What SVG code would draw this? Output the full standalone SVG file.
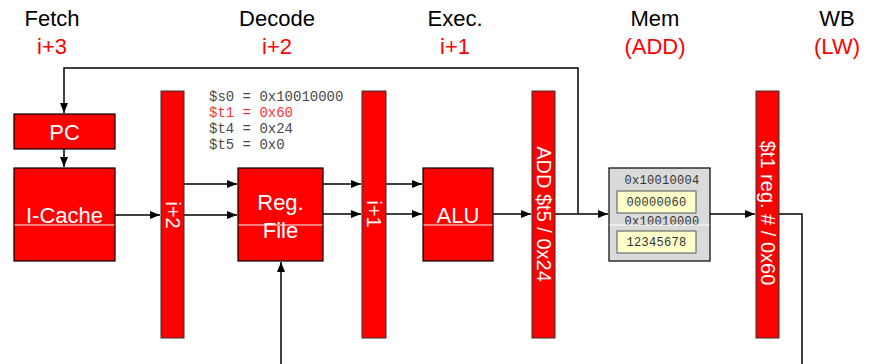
<svg xmlns="http://www.w3.org/2000/svg" width="873" height="364" viewBox="0 0 873 364">
<style>
.hdr{font-family:"Liberation Sans",Arial,sans-serif;font-size:22px;fill:#000;text-anchor:middle}
.hdrr{font-family:"Liberation Sans",Arial,sans-serif;font-size:22px;fill:#ff0000;text-anchor:middle}
.box{fill:#ff0000;stroke:#000;stroke-width:1.2}
.reg{fill:#ff0000;stroke:#333;stroke-width:1}
.bt{font-family:"Liberation Sans",Arial,sans-serif;font-size:22px;fill:#fff;text-anchor:middle}
.rt{font-family:"Liberation Sans",Arial,sans-serif;font-size:20px;fill:#fff;text-anchor:middle}
.wl{stroke:#fff;stroke-width:1}
.mono{font-family:"Liberation Mono","Courier New",monospace;font-size:14px;fill:#4a4a4a}
.mm{font-family:"Liberation Mono","Courier New",monospace;font-size:12px;fill:#333;text-anchor:middle;letter-spacing:0.3px}
.ln{fill:none;stroke:#404040;stroke-width:2}
.lk{fill:none;stroke:#000;stroke-width:1.5}
</style>
<defs>
<marker id="ah" viewBox="0 0 10 10" refX="10" refY="5" markerWidth="10" markerHeight="10" markerUnits="userSpaceOnUse" orient="auto">
<path d="M0,1 L10,5 L0,9 Z" fill="#000"/>
</marker>
</defs>

<g id="headers">
<text class="hdr" x="52" y="26">Fetch</text>
<text class="hdrr" x="52" y="54">i+3</text>
<text class="hdr" x="277" y="26">Decode</text>
<text class="hdrr" x="277" y="54">i+2</text>
<text class="hdr" x="455" y="26">Exec.</text>
<text class="hdrr" x="455" y="54">i+1</text>
<text class="hdr" x="655" y="26">Mem</text>
<text class="hdrr" x="655" y="54">(ADD)</text>
<text class="hdr" x="837" y="26">WB</text>
<text class="hdrr" x="837" y="54">(LW)</text>
</g>

<g id="regvals">
<text class="mono" x="209" y="101">$s0 = 0x10010000</text>
<text class="mono" x="209" y="117" style="fill:#ff3333">$t1 = 0x60</text>
<text class="mono" x="209" y="133">$t4 = 0x24</text>
<text class="mono" x="209" y="149">$t5 = 0x0</text>
</g>

<g id="connectors">
<polyline class="lk" points="555,214 578,214 578,68 64,68 64,113" marker-end="url(#ah)"/>
<line class="lk" x1="64" y1="149" x2="64" y2="167" marker-end="url(#ah)"/>
<line class="ln" x1="115" y1="215" x2="160" y2="215" marker-end="url(#ah)"/>
<line class="ln" x1="184" y1="184" x2="237" y2="184" marker-end="url(#ah)"/>
<line class="ln" x1="184" y1="215" x2="237" y2="215" marker-end="url(#ah)"/>
<line class="ln" x1="281" y1="364" x2="281" y2="262" marker-end="url(#ah)"/>
<line class="ln" x1="323" y1="184" x2="361" y2="184" marker-end="url(#ah)"/>
<line class="ln" x1="323" y1="214" x2="361" y2="214" marker-end="url(#ah)"/>
<line class="ln" x1="386" y1="184" x2="422" y2="184" marker-end="url(#ah)"/>
<line class="ln" x1="386" y1="214" x2="422" y2="214" marker-end="url(#ah)"/>
<line class="ln" x1="493" y1="214" x2="531" y2="214" marker-end="url(#ah)"/>
<line class="ln" x1="578" y1="214" x2="608" y2="214" marker-end="url(#ah)"/>
<line class="ln" x1="710" y1="214" x2="755" y2="214" marker-end="url(#ah)"/>
<polyline class="lk" points="779,214 802,214 802,364"/>
</g>

<g id="pc">
<rect class="box" x="14" y="114" width="101" height="35"/>
<text class="bt" x="64.5" y="140">PC</text>
</g>

<g id="icache">
<rect class="box" x="14" y="168" width="101" height="93"/>
<text class="bt" x="64.5" y="223">I-Cache</text>
<line class="wl" x1="14.6" y1="225" x2="114.4" y2="225"/>
</g>

<g id="reg-if-id">
<rect class="reg" x="161" y="91" width="23" height="247"/>
<text class="rt" transform="translate(172.5,215) rotate(90)" x="0" y="7">i+2</text>
</g>

<g id="regfile">
<rect class="box" x="238" y="168" width="85" height="93"/>
<text class="bt" x="280.5" y="210">Reg.</text>
<text class="bt" x="280.5" y="238">File</text>
<line class="wl" x1="238.6" y1="225" x2="322.4" y2="225"/>
</g>

<g id="reg-id-ex">
<rect class="reg" x="362" y="91" width="24" height="247"/>
<text class="rt" transform="translate(374,214) rotate(90)" x="0" y="7">i+1</text>
</g>

<g id="alu">
<rect class="box" x="423" y="168" width="70" height="93"/>
<text class="bt" x="458" y="223">ALU</text>
<line class="wl" x1="423.6" y1="225" x2="492.4" y2="225"/>
</g>

<g id="reg-ex-mem">
<rect class="reg" x="532" y="91" width="23" height="247"/>
<text class="rt" transform="translate(543.5,214) rotate(90)" x="0" y="7">ADD $t5 / 0x24</text>
</g>

<g id="memory">
<rect x="609" y="168" width="101" height="93" fill="#dadada" stroke="#000" stroke-width="1.2"/>
<text class="mm" x="662" y="184">0x10010004</text>
<rect x="617" y="191" width="79" height="22" fill="#ffffcc" stroke="#555" stroke-width="1"/>
<text class="mm" x="656.5" y="206">00000060</text>
<text class="mm" x="662" y="225">0x10010000</text>
<line class="wl" x1="609.6" y1="225" x2="709.4" y2="225"/>
<rect x="617" y="231" width="79" height="22" fill="#ffffcc" stroke="#555" stroke-width="1"/>
<text class="mm" x="656.5" y="246">12345678</text>
</g>

<g id="reg-mem-wb">
<rect class="reg" x="756" y="91" width="23" height="247"/>
<text class="rt" transform="translate(767.5,213) rotate(90)" x="0" y="7">$t1 reg. # / 0x60</text>
</g>
</svg>
